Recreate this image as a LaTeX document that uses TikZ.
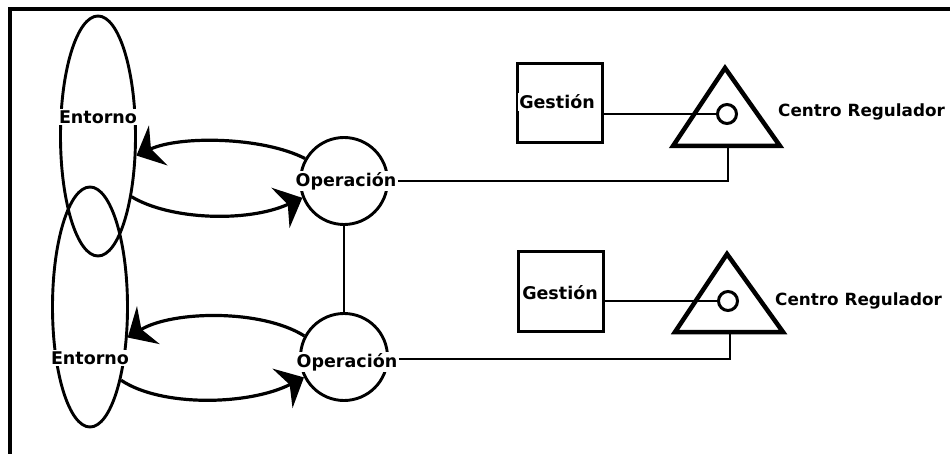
\documentclass[tikz,border=0pt]{standalone}
\usepackage{fontspec}
\setsansfont{DejaVu Sans}
\usetikzlibrary{shapes.geometric,arrows.meta}
\tikzset{
  lbl/.style={font=\sffamily\bfseries\fontsize{17.5}{20}\selectfont, fill=white, inner sep=1.5pt},
  plainlbl/.style={font=\sffamily\bfseries\fontsize{16.8}{20}\selectfont, inner sep=1pt},
  envell/.style={draw, ellipse, line width=2.9pt, minimum width=75pt, minimum height=240pt, inner sep=0pt},
  opcirc/.style={draw, circle, line width=2.9pt, minimum size=87pt, inner sep=0pt},
  gbox/.style={draw, rectangle, line width=3pt, minimum width=85pt, minimum height=79pt, inner sep=0pt},
  regc/.style={draw, circle, line width=3pt, minimum size=19pt, inner sep=0pt, fill=white},
  tri/.style={line width=4.5pt, line join=miter},
  wire/.style={line width=2.9pt},
  flow/.style={line width=3.2pt, -{Stealth[length=24pt, width=44pt, inset=8pt]}},
}
\begin{document}
\begin{tikzpicture}[x=1pt, y=-1pt]
\useasboundingbox (0,0) rectangle (950,454);
% frame (clipped on the right and bottom)
\draw[line width=3.5pt] (10,480) -- (10,9) -- (980,9);

% environments
\node[envell] (ent1) at (98,136) {};
\node[envell] (ent2) at (90,307) {};
\node[lbl] (ent1lab) at (98,117) {Entorno};
\node[lbl] (ent2lab) at (90,358) {Entorno};

% operation circles
\node[opcirc] (op1) at (344,181) {};
\node[opcirc] (op2) at (344,357) {};
\draw[wire] (op1.south) -- (op2.north);
\node[lbl] (op1lab) at (346,181) {Operación};
\node[lbl] (op2lab) at (347,362) {Operación};

% arrows
\draw[flow] (op1.150) .. controls +(-43,-22) and +(43,-20) .. (ent1.-27);
\draw[flow] (ent1.-61) .. controls +(38,23) and +(-55,25) .. (op1.202);
\draw[flow] (op2.152) .. controls +(-43,-27) and +(45,-27) .. (ent2.-39);
\draw[flow] (ent2.-67) .. controls +(40,27) and +(-55,28) .. (op2.207);

% upper control unit
\node[gbox] (g1) at (559.5,103.5) {};
\node[lbl] (g1lab) at (557,102) {Gestión};
\draw[tri] (725,68) -- (780,146) -- (673,146) -- cycle;
\coordinate (t1base) at (728,146);
\node[regc] (reg1) at (727,114) {};
\draw[wire] (reg1.west -| g1.east) -- (reg1.west);
\draw[wire] (op1lab.east) -| (t1base);
\node[plainlbl, anchor=west] (cr1) at (777,112) {Centro Regulador};

% lower control unit
\node[gbox] (g2) at (561,291.5) {};
\node[lbl] (g2lab) at (560,293) {Gestión};
\draw[tri] (727,254) -- (783,332) -- (675,332) -- cycle;
\coordinate (t2base) at (730,332);
\node[regc] (reg2) at (728,301) {};
\draw[wire] (reg2.west -| g2.east) -- (reg2.west);
\draw[wire] (op2lab.east |- 0,359) -| (t2base);
\node[plainlbl, anchor=west] (cr2) at (774,301) {Centro Regulador};
\end{tikzpicture}
\end{document}
